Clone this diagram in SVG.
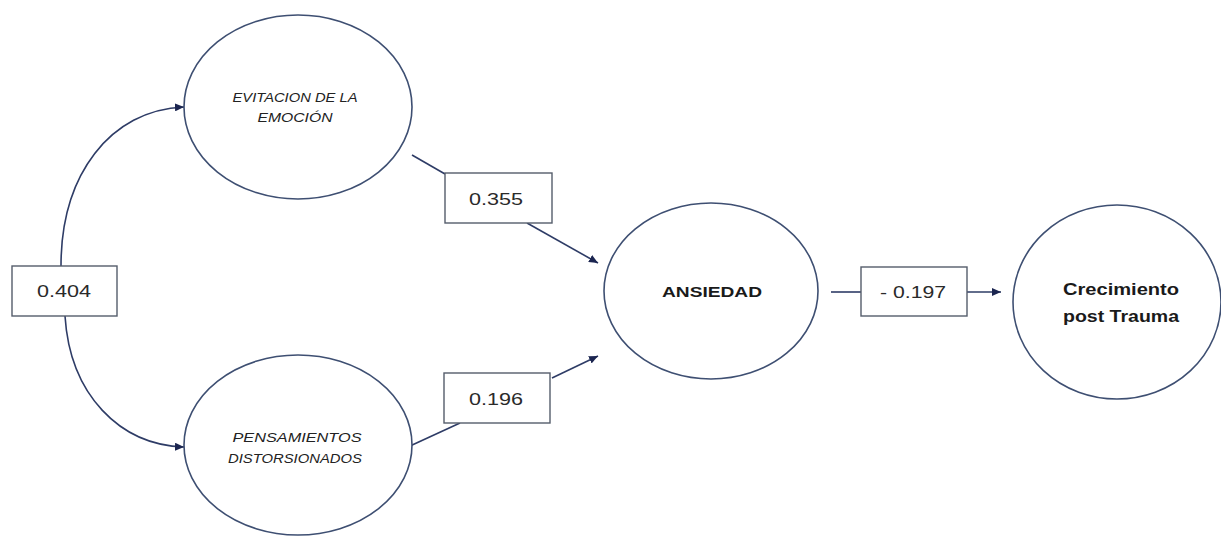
<svg xmlns="http://www.w3.org/2000/svg" width="1221" height="536" viewBox="0 0 1221 536">
<style>
.node ellipse{fill:#fff;stroke:#3e4f72;stroke-width:1.6}
.lbl rect{fill:#fff;stroke:#555d6b;stroke-width:1.4}
.conn path{fill:none;stroke:#2e3c66;stroke-width:1.6}
.it{font-family:"Liberation Sans",Arial,sans-serif;font-style:italic;font-size:13px;fill:#222}
.bd{font-family:"Liberation Sans",Arial,sans-serif;font-weight:bold;font-size:15px;fill:#1a1a1a}
.bd2{font-family:"Liberation Sans",Arial,sans-serif;font-weight:bold;font-size:16px;fill:#1a1a1a}
.num{font-family:"Liberation Sans",Arial,sans-serif;font-size:16px;fill:#2a2a2a}
</style>
<defs>
<marker id="ah" markerWidth="9" markerHeight="8" refX="9" refY="4" orient="auto" markerUnits="userSpaceOnUse">
<path d="M0,0 L9,4 L0,8 z" fill="#1b2550"/>
</marker>
</defs>
<rect width="1221" height="536" fill="#fff"/>
<g class="conn">
<path d="M61,266 C61,175 110,110 184,107" marker-end="url(#ah)"/>
<path d="M65,316 C70,395 120,445 184,447" marker-end="url(#ah)"/>
<path d="M412,155 L445,174"/>
<path d="M527,223 L598,263" marker-end="url(#ah)"/>
<path d="M410,446 L460,423"/>
<path d="M552,378 L598,356" marker-end="url(#ah)"/>
<path d="M831,292 L861,292"/>
<path d="M967,292 L1001,292" marker-end="url(#ah)"/>
</g>
<g id="evitacion" class="node">
<ellipse cx="298" cy="107" rx="114" ry="92"/>
<text class="it" x="295" y="102" text-anchor="middle" textLength="125" lengthAdjust="spacingAndGlyphs">EVITACION DE LA</text>
<text class="it" x="295" y="122" text-anchor="middle" textLength="75" lengthAdjust="spacingAndGlyphs">EMOCIÓN</text>
</g>
<g id="pensamientos" class="node">
<ellipse cx="298" cy="445" rx="114" ry="90"/>
<text class="it" x="297" y="442" text-anchor="middle" textLength="129" lengthAdjust="spacingAndGlyphs">PENSAMIENTOS</text>
<text class="it" x="295" y="463" text-anchor="middle" textLength="134" lengthAdjust="spacingAndGlyphs">DISTORSIONADOS</text>
</g>
<g id="ansiedad" class="node">
<ellipse cx="711" cy="291" rx="107" ry="88"/>
<text class="bd" x="712" y="297" text-anchor="middle" textLength="100" lengthAdjust="spacingAndGlyphs">ANSIEDAD</text>
</g>
<g id="crecimiento" class="node">
<ellipse cx="1117" cy="302" rx="104" ry="97"/>
<text class="bd2" x="1121" y="295" text-anchor="middle" textLength="116" lengthAdjust="spacingAndGlyphs">Crecimiento</text>
<text class="bd2" x="1121" y="322" text-anchor="middle" textLength="116" lengthAdjust="spacingAndGlyphs">post Trauma</text>
</g>
<g id="w404" class="lbl">
<rect x="12" y="266" width="105" height="50"/>
<text class="num" x="64" y="297" text-anchor="middle" textLength="54" lengthAdjust="spacingAndGlyphs">0.404</text>
</g>
<g id="w355" class="lbl">
<rect x="445" y="173" width="107" height="50"/>
<text class="num" x="496" y="205" text-anchor="middle" textLength="54" lengthAdjust="spacingAndGlyphs">0.355</text>
</g>
<g id="w196" class="lbl">
<rect x="444" y="373" width="106" height="50"/>
<text class="num" x="496" y="405" text-anchor="middle" textLength="54" lengthAdjust="spacingAndGlyphs">0.196</text>
</g>
<g id="w197" class="lbl">
<rect x="861" y="267" width="106" height="49"/>
<text class="num" x="913" y="298" text-anchor="middle" textLength="66" lengthAdjust="spacingAndGlyphs">- 0.197</text>
</g>
</svg>
